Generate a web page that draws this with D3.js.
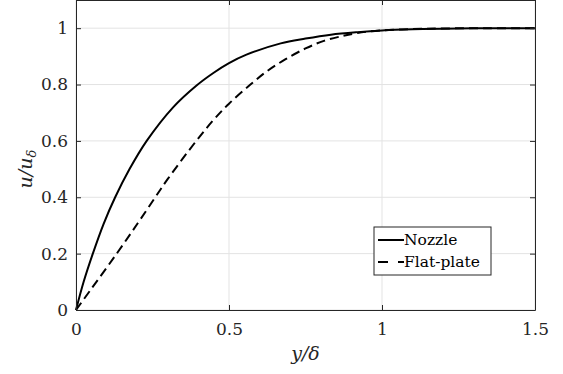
<!DOCTYPE html>
<html>
<head>
<meta charset="utf-8">
<script src="https://cdn.jsdelivr.net/npm/d3@7"></script>
<style>
  body { margin: 0; background: #fff; }
  text { font-family: 'DejaVu Serif', serif; }
</style>
</head>
<body>
<div class="chart"></div>
<script>
// values
const nozzleX = [0, 0.025, 0.055, 0.09, 0.128, 0.175, 0.231, 0.318, 0.392, 0.45, 0.5, 0.557, 0.669, 0.75, 0.833, 0.92, 1.0, 1.1, 1.2, 1.35, 1.5];
const nozzleY = [0, 0.1, 0.2, 0.305, 0.4, 0.5, 0.6, 0.72, 0.795, 0.842, 0.876, 0.906, 0.946, 0.963, 0.977, 0.986, 0.992, 0.996, 0.998, 1.0, 1.0];
const plateX = [0, 0.05, 0.133, 0.2, 0.259, 0.3, 0.393, 0.45, 0.5, 0.57, 0.625, 0.685, 0.75, 0.81, 0.87, 0.92, 1.0, 1.1, 1.2, 1.35, 1.5];
const plateY = [0, 0.075, 0.2, 0.305, 0.4, 0.465, 0.6, 0.675, 0.732, 0.8, 0.848, 0.89, 0.928, 0.955, 0.972, 0.983, 0.992, 0.997, 0.999, 1.0, 1.0];
const xTicks = [0, 0.5, 1, 1.5];
const yTicks = [0, 0.2, 0.4, 0.6, 0.8, 1];
const seriesNames = ['Nozzle', 'Flat-plate'];

const width = 563;
const height = 374;
const margin = { top: 0, right: 28, bottom: 64, left: 76 };
const chart_width = width - margin.left - margin.right;
const chart_height = height - margin.top - margin.bottom;

const svg = d3.select('.chart').append('svg')
  .attr('width', width)
  .attr('height', height);

const g = svg.append('g')
  .attr('transform', 'translate(' + margin.left + ',' + margin.top + ')');

const x = d3.scaleLinear().domain([0, 1.5]).range([0, chart_width]);
const y = d3.scaleLinear().domain([0, 1.1]).range([chart_height, 0]);

// grid
g.append('g').selectAll('line').data(xTicks).enter().append('line')
  .attr('x1', d => x(d)).attr('x2', d => x(d))
  .attr('y1', 0).attr('y2', chart_height)
  .attr('stroke', '#e3e3e3').attr('stroke-width', 1);
g.append('g').selectAll('line').data(yTicks).enter().append('line')
  .attr('x1', 0).attr('x2', chart_width)
  .attr('y1', d => y(d)).attr('y2', d => y(d))
  .attr('stroke', '#e3e3e3').attr('stroke-width', 1);

// curves
const line = d3.line()
  .x(d => x(d[0]))
  .y(d => y(d[1]))
  .curve(d3.curveCatmullRom.alpha(0.5));

const nozzle = nozzleX.map((v, i) => [v, nozzleY[i]]);
const plate = plateX.map((v, i) => [v, plateY[i]]);

g.append('path').datum(plate)
  .attr('d', line)
  .attr('fill', 'none')
  .attr('stroke', '#000')
  .attr('stroke-width', 2)
  .attr('stroke-dasharray', '9,5');

g.append('path').datum(nozzle)
  .attr('d', line)
  .attr('fill', 'none')
  .attr('stroke', '#000')
  .attr('stroke-width', 2);

// axes (ticks pointing inward, box all round)
const fmt = d => d3.format('')(d);
const xAxis = d3.axisBottom(x).tickValues(xTicks).tickSizeInner(-5).tickSizeOuter(0).tickPadding(13).tickFormat(fmt);
const yAxis = d3.axisLeft(y).tickValues(yTicks).tickSizeInner(-5).tickSizeOuter(0).tickPadding(8).tickFormat(fmt);

const gx = g.append('g').attr('transform', 'translate(0,' + chart_height + ')').call(xAxis);
const gy = g.append('g').call(yAxis);
g.append('g').call(d3.axisTop(x).tickValues(xTicks).tickSizeInner(-5).tickSizeOuter(0).tickFormat(''));
g.append('g').attr('transform', 'translate(' + chart_width + ',0)')
  .call(d3.axisRight(y).tickValues(yTicks).tickSizeInner(-5).tickSizeOuter(0).tickFormat(''));

g.selectAll('.domain').attr('stroke', '#262626');
g.selectAll('.tick line').attr('stroke', '#262626');
gx.selectAll('text').attr('fill', '#262626').style('font-size', '17px').attr('dy', '0.71em');
gy.selectAll('text').attr('fill', '#262626').style('font-size', '17px');

// box top edge (y domain ends just above the plot top)
g.append('line').attr('x1', 0).attr('x2', chart_width).attr('y1', 0.5).attr('y2', 0.5)
  .attr('stroke', '#262626');

// axis titles
svg.append('text')
  .attr('x', margin.left + x(0.75))
  .attr('y', 360)
  .attr('text-anchor', 'middle')
  .attr('fill', '#262626')
  .style('font-size', '19px')
  .style('font-style', 'italic')
  .text('y/δ');

const yt = svg.append('text')
  .attr('transform', 'translate(32,' + (margin.top + y(0.5)) + ') rotate(-90)')
  .attr('text-anchor', 'middle')
  .attr('fill', '#262626')
  .style('font-size', '19px')
  .style('font-style', 'italic');
yt.append('tspan').text('u/u');
yt.append('tspan').attr('dy', 4).style('font-size', '13px').text('δ');

// legend
const legend = svg.append('g').attr('transform', 'translate(374,227)');
legend.append('rect')
  .attr('width', 117).attr('height', 48)
  .attr('fill', '#fff').attr('stroke', '#262626').attr('stroke-width', 1);

const items = legend.selectAll('.item').data(seriesNames).enter().append('g')
  .attr('class', 'item')
  .attr('transform', (d, i) => 'translate(0,' + (13 + i * 22) + ')');
items.append('line')
  .attr('x1', 4).attr('x2', 30)
  .attr('stroke', '#000').attr('stroke-width', 2)
  .attr('stroke-dasharray', (d, i) => i ? '10,10' : null);
items.append('text')
  .attr('x', 30).attr('dy', '0.35em')
  .attr('fill', '#000')
  .style('font-size', '15.5px')
  .text(d => d);
</script>
</body>
</html>
